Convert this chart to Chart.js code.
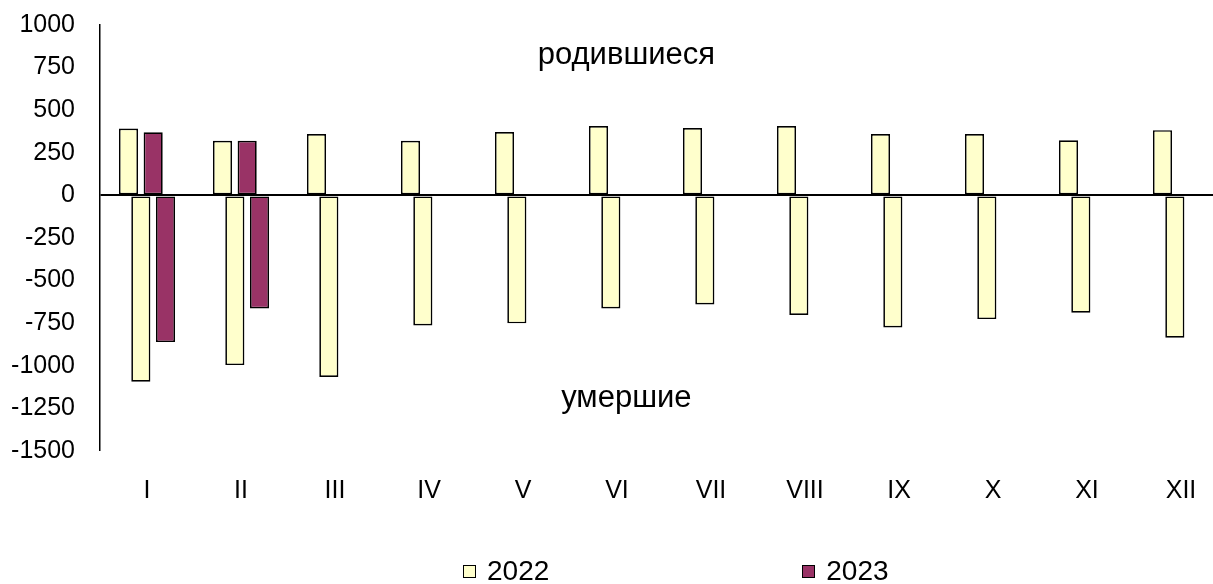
<!DOCTYPE html>
<html>
<head>
<meta charset="utf-8">
<script src="https://cdn.jsdelivr.net/npm/chart.js@4"></script>
<style>
  html, body { margin: 0; padding: 0; background: #fff; overflow: hidden; }
  #wrap { position: relative; width: 1240px; height: 584px; }
  #legend { position: absolute; left: 463px; top: 555px; display: flex; gap: 253px;
    font: 28px Arial, "Liberation Sans", sans-serif; color: #000; }
  #legend .item { display: flex; align-items: center; white-space: nowrap; }
  #legend .box { width: 11px; height: 11px; border: 1.5px solid #000; margin-right: 11px; }
</style>
</head>
<body>
<div id="wrap">
  <canvas id="myChart" width="1240" height="584"></canvas>
  <div id="legend"></div>
</div>
<script>
// Months
const months = ['I', 'II', 'III', 'IV', 'V', 'VI', 'VII', 'VIII', 'IX', 'X', 'XI', 'XII'];
const years = ['2022', '2023'];

// born (positive) and died (negative), persons
const born2022 = [393, 321, 360, 321, 372, 407, 395, 407, 360, 360, 323, 383];
const died2022 = [-1093, -996, -1065, -763, -751, -663, -640, -702, -775, -726, -689, -835];
const born2023 = [370, 321];
const died2023 = [-861, -663];

const yTicks = [-1500, -1250, -1000, -750, -500, -250, 0, 250, 500, 750, 1000];

// text notes inside the plot: [text, month position, value]
const notes = [
  ['родившиеся', 5.1, 769],
  ['умершие', 5.1, -1244]
];

const colors = ['#FFFFCC', '#993366'];
const font = 'Arial, "Liberation Sans", sans-serif';

function bars(label, data, color) {
  return {
    label: label,
    data: data,
    backgroundColor: color,
    borderColor: '#000',
    borderWidth: 1.7,
    borderSkipped: false,
    categoryPercentage: 0.525,
    barPercentage: 1.55
  };
}

// Подписи внутри графика
const notesPlugin = {
  id: 'notes',
  afterDatasetsDraw(chart) {
    const { ctx, scales } = chart;
    ctx.save();
    ctx.font = '31px ' + font;
    ctx.fillStyle = '#000';
    ctx.textAlign = 'center';
    ctx.textBaseline = 'alphabetic';
    notes.forEach(n => {
      ctx.fillText(n[0], scales.x.getPixelForValue(n[1]), scales.y.getPixelForValue(n[2]));
    });
    ctx.restore();
  }
};

const ctx = document.querySelector('#myChart').getContext('2d');
new Chart(ctx, {
  type: 'bar',
  data: {
    labels: months,
    datasets: [
      bars(years[0], born2022, colors[0]),
      bars(years[0], died2022, colors[0]),
      bars(years[1], born2023, colors[1]),
      bars(years[1], died2023, colors[1])
    ]
  },
  options: {
    responsive: false,
    animation: false,
    layout: { padding: { top: 25, right: 12, left: 0, bottom: 0 } },
    plugins: {
      legend: { display: false },
      tooltip: { enabled: false }
    },
    scales: {
      x: {
        grid: { display: false },
        border: { display: false },
        ticks: { color: '#000', font: { family: font, size: 25 }, padding: 17, maxRotation: 0 },
        afterFit(scale) { scale.height = 133; }
      },
      y: {
        min: -1500,
        max: 1000,
        afterBuildTicks(scale) { scale.ticks = yTicks.map(v => ({ value: v })); },
        afterFit(scale) { scale.width = 100; },
        border: { display: true, color: '#000', width: 1.5 },
        grid: {
          drawTicks: true,
          tickLength: 25,
          tickColor: 'rgba(0,0,0,0)',
          color: c => (c.tick && c.tick.value === 0 ? '#000' : 'rgba(0,0,0,0)'),
          lineWidth: c => (c.tick && c.tick.value === 0 ? 2 : 0)
        },
        ticks: {
          color: '#000',
          font: { family: font, size: 25 },
          padding: 0,
          callback: v => String(v)
        }
      }
    }
  },
  plugins: [notesPlugin]
});

// legend: only years
const legend = document.querySelector('#legend');
years.forEach((y, i) => {
  const item = document.createElement('div');
  item.className = 'item';
  const box = document.createElement('span');
  box.className = 'box';
  box.style.background = colors[i];
  item.appendChild(box);
  item.appendChild(document.createTextNode(y));
  legend.appendChild(item);
});
</script>
</body>
</html>
